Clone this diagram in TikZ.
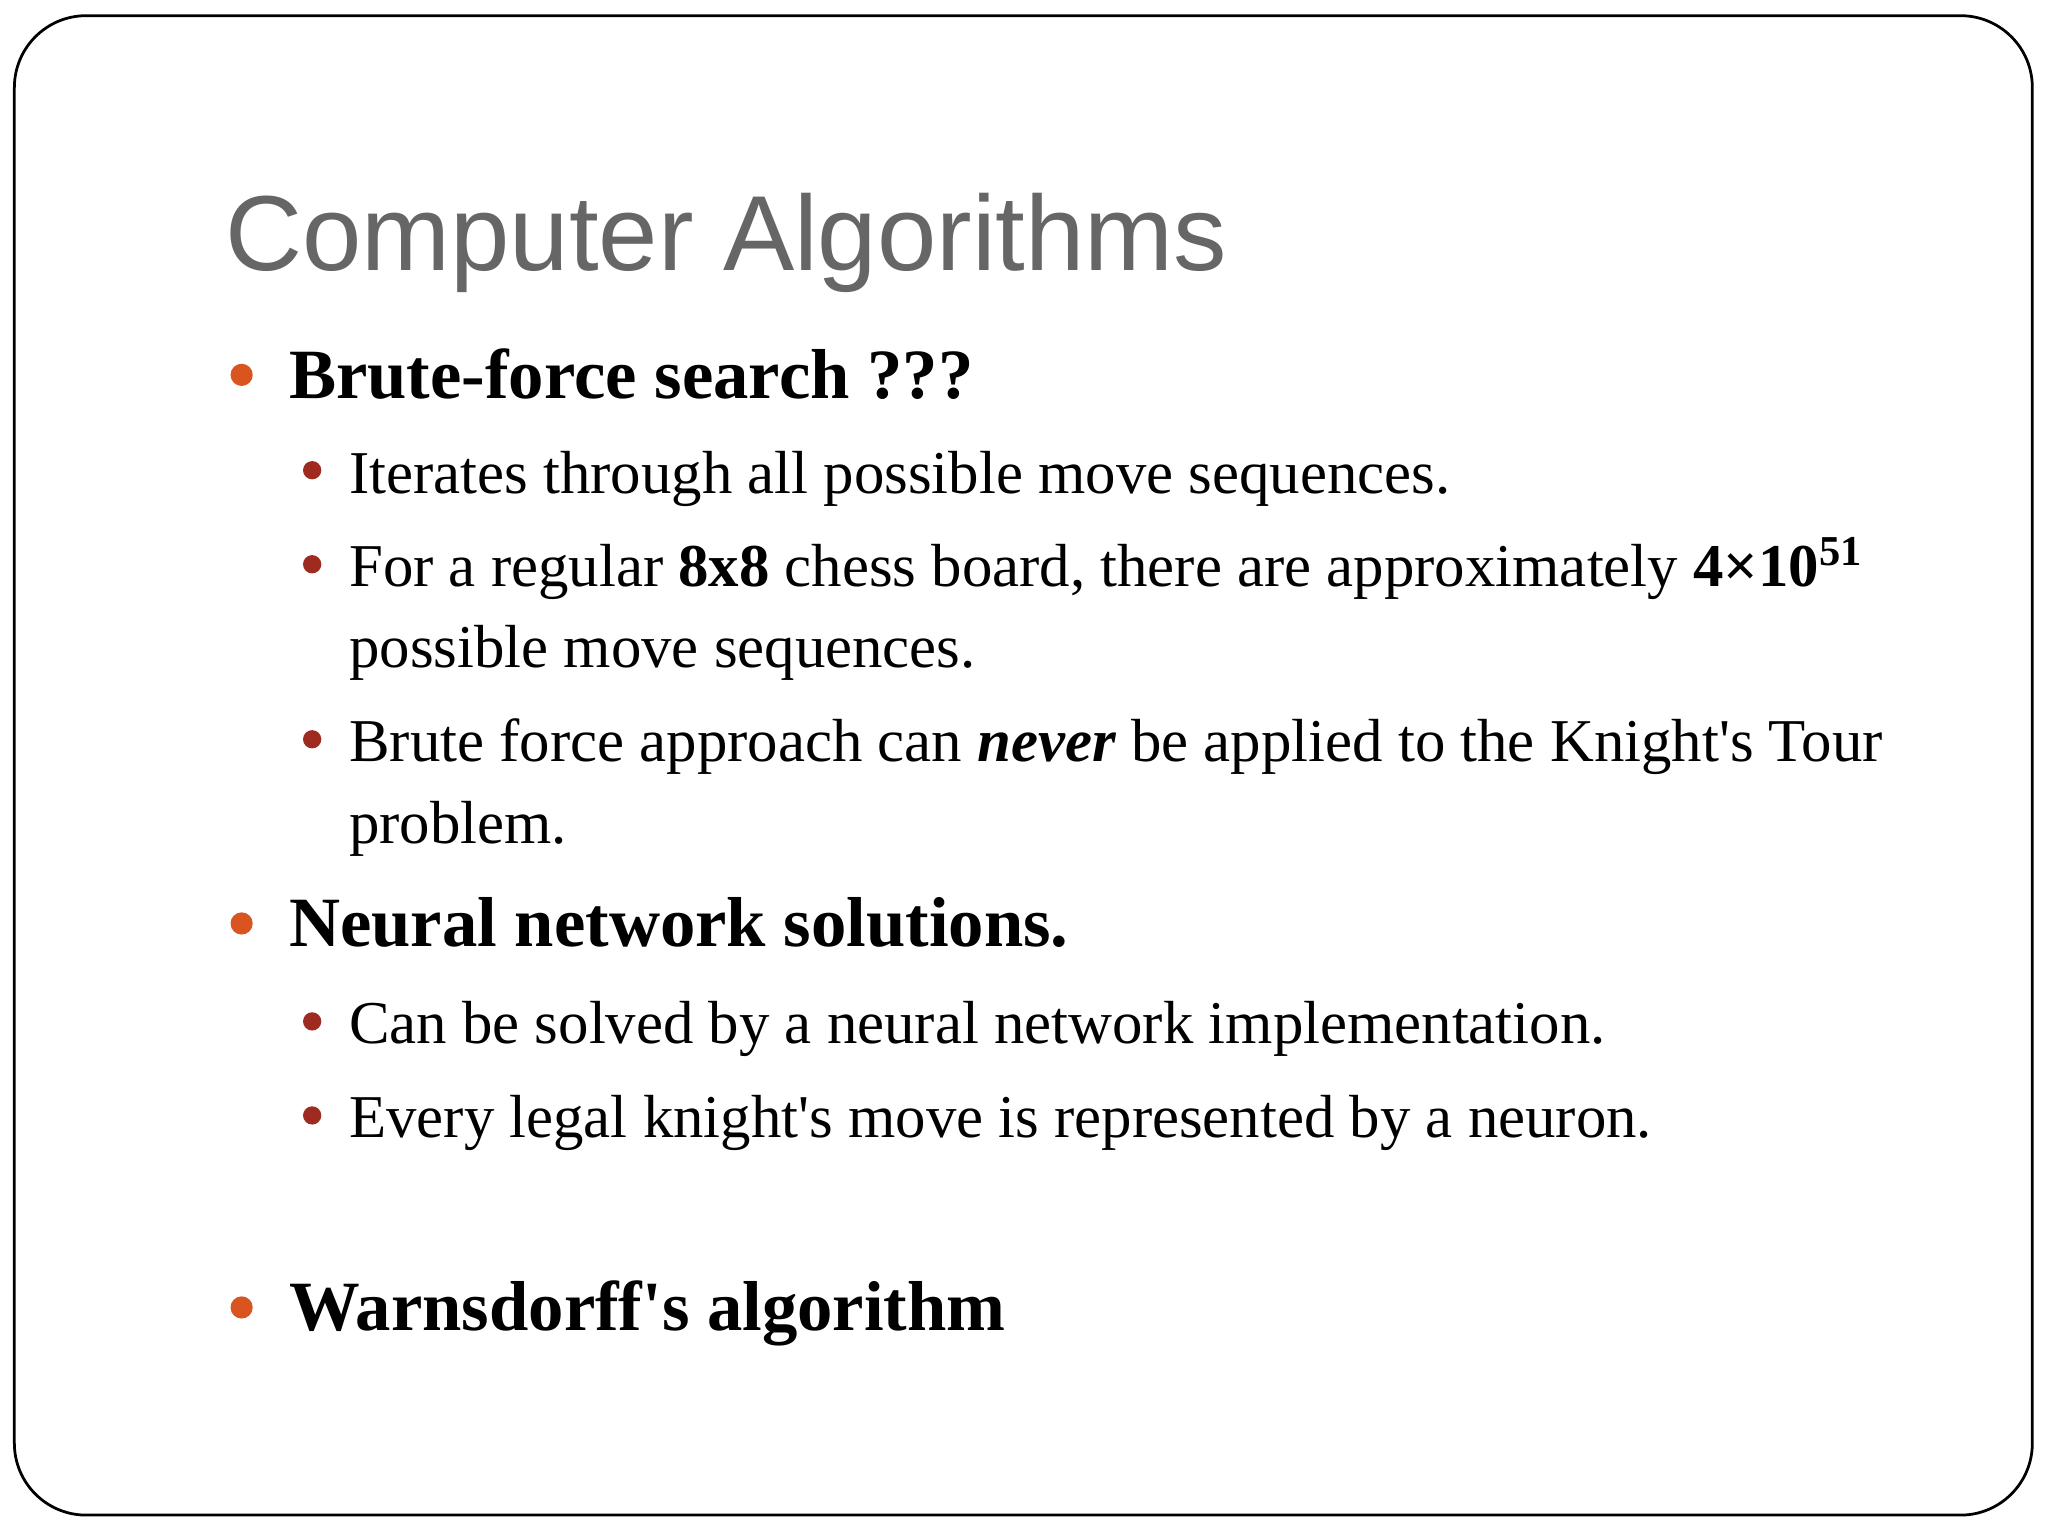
\documentclass[tikz,border=0pt]{standalone}
\usepackage{fontspec}
\setmainfont{Liberation Serif}
\newfontfamily\titlefont{Liberation Sans}
\definecolor{titlegray}{HTML}{666666}
\definecolor{mainbul}{HTML}{D9541E}
\definecolor{subbul}{HTML}{9E2A20}
\newcommand{\apo}{\textquotesingle}
\begin{document}
\begin{tikzpicture}[x=0.02cm,y=-0.02cm,
  lvlone/.style={anchor=base west,inner sep=0pt,font=\fontsize{30.8}{36}\selectfont\bfseries},
  lvltwo/.style={anchor=base west,inner sep=0pt,font=\fontsize{26.5}{31}\selectfont},
  mb/.style={fill=mainbul,draw=none,circle,minimum size=0.34cm,inner sep=0pt},
  sb/.style={fill=subbul,draw=none,circle,minimum size=0.28cm,inner sep=0pt}]
\useasboundingbox (0,0) rectangle (1568,1176);
\draw[line width=1.2pt,rounded corners=1.1cm] (11,12) rectangle (1556,1160);
\node[anchor=base west,inner sep=0pt,text=titlegray,font=\titlefont\fontsize{46.5}{54}\selectfont] (title) at (172,207) {Computer Algorithms};
\node[mb] (b1) at (185,287) {};
\node[lvlone] (t1) at (221,305) {Brute-force search ???};
\node[sb] (s1) at (239,360) {};
\node[lvltwo] (u1) at (267,378) {Iterates through all possible move sequences.};
\node[sb] (s2) at (239,432) {};
\node[lvltwo] (u2) at (267,449) {For a regular \textbf{8x8} chess board, there are approximately \textbf{4×10\textsuperscript{51}}};
\node[lvltwo] (u2b) at (267,511) {possible move sequences.};
\node[sb] (s3) at (239,566) {};
\node[lvltwo] (u3) at (267,583) {Brute force approach can \textbf{\textit{never}} be applied to the Knight\apo s Tour};
\node[lvltwo] (u3b) at (267,646) {problem.};
\node[mb] (b2) at (185,707) {};
\node[lvlone] (t2) at (221,725) {Neural network solutions.};
\node[sb] (s4) at (239,782) {};
\node[lvltwo] (u4) at (267,799) {Can be solved by a neural network implementation.};
\node[sb] (s5) at (239,854) {};
\node[lvltwo] (u5) at (267,871) {Every legal knight\apo s move is represented by a neuron.};
\node[mb] (b3) at (185,1001) {};
\node[lvlone] (t3) at (221,1019) {Warnsdorff\apo s algorithm};
\end{tikzpicture}
\end{document}
